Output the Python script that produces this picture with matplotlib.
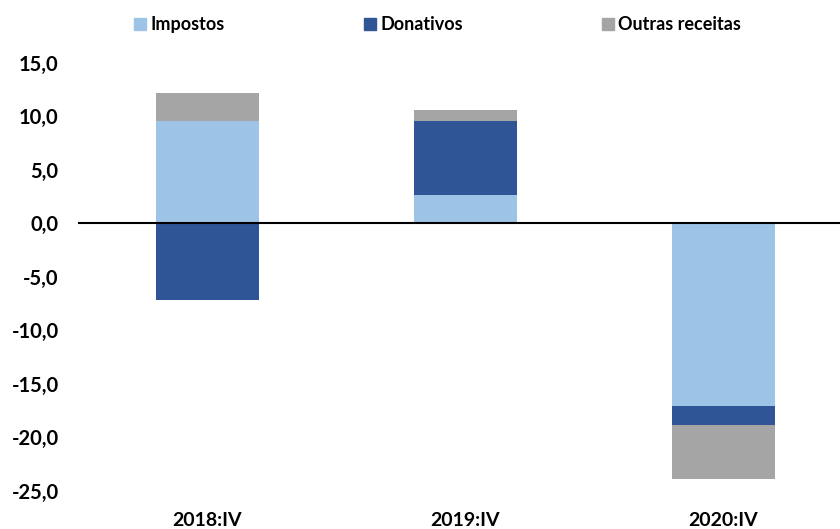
import numpy as np
import matplotlib.pyplot as plt
from matplotlib.patches import Patch
from matplotlib.ticker import FuncFormatter

plt.rcParams['font.family'] = ['Lato', 'DejaVu Sans']
plt.rcParams['font.weight'] = 'bold'

# Dados (pontos percentuais)
periodos = ["2018:IV", "2019:IV", "2020:IV"]
impostos = [9.55, 2.65, -17.05]
donativos = [-7.2, 6.9, -1.75]
outras = [2.6, 1.05, -5.05]

series = [("Impostos", impostos, "#9DC3E6"),
          ("Donativos", donativos, "#2F5597"),
          ("Outras receitas", outras, "#A5A5A5")]

fig = plt.figure(figsize=(8.4, 5.29), dpi=100)
ax = fig.add_axes([0.093, 0.072, 0.907, 0.809])

x = np.arange(len(periodos))
pos_base = np.zeros(len(periodos))
neg_base = np.zeros(len(periodos))
for nome, vals, cor in series:
    v = np.array(vals)
    base = np.where(v >= 0, pos_base, neg_base)
    ax.bar(x, v, 0.4, bottom=base, color=cor, label=nome)
    pos_base += np.where(v >= 0, v, 0)
    neg_base += np.where(v < 0, v, 0)

ax.axhline(0, color="black", lw=1.5)
ax.set_xlim(-0.5, 2.453)
ax.set_ylim(-25, 15)
ax.set_yticks(np.arange(-25, 16, 5))
ax.yaxis.set_major_formatter(FuncFormatter(lambda v, p: f"{v:.1f}".replace(".", ",")))
ax.set_xticks(x)
ax.set_xticklabels(periodos)
ax.tick_params(axis="y", length=0, labelsize=14.5, pad=14)
ax.tick_params(axis="x", length=0, labelsize=14, pad=15)
for s in ax.spines.values():
    s.set_visible(False)

handles = [Patch(color=c, label=n) for n, _, c in series]
fig.legend(handles=handles, loc="center", bbox_to_anchor=(0.521, 0.953), ncol=3,
           frameon=False, fontsize=13, handlelength=0.65, handleheight=0.65,
           handletextpad=0.25, columnspacing=7.7)

plt.savefig("out.png")
plt.close()
